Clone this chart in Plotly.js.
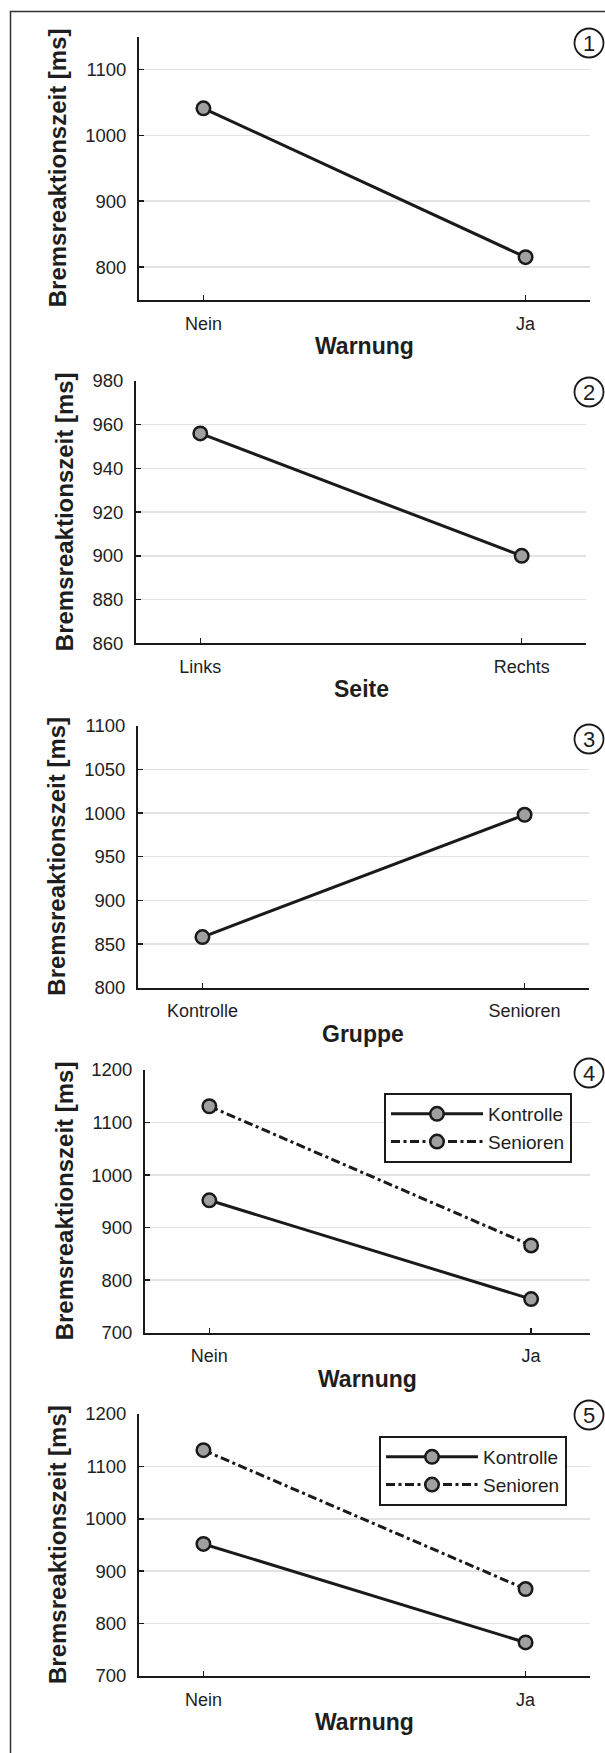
<!DOCTYPE html>
<html>
<head>
<meta charset="utf-8">
<script src="https://cdn.plot.ly/plotly-3.0.1.min.js"></script>
<style>
  html, body { margin: 0; padding: 0; background: #ffffff; }
  #chart { width: 605px; height: 1753px; }
</style>
</head>
<body>
<div id="chart"></div>
<script>
// Mean brake reaction times [ms] per factor
const warnung = ['Nein', 'Ja'];
const rtWarnung = [1041, 815];

const seite = ['Links', 'Rechts'];
const rtSeite = [956, 900];

const gruppe = ['Kontrolle', 'Senioren'];
const rtGruppe = [858, 998];

// Interaction Gruppe x Warnung
const rtKontrolle = [952, 764];
const rtSenioren = [1131, 866];

// Axis tick values
const ticks1 = [800, 900, 1000, 1100];
const ticks2 = [860, 880, 900, 920, 940, 960, 980];
const ticks3 = [800, 850, 900, 950, 1000, 1050, 1100];
const ticks4 = [700, 800, 900, 1000, 1100, 1200];

const yTitle = 'Bremsreaktionszeit [ms]';

const W = 605, H = 1753;
const px = p => p / W;
const py = p => 1 - p / H;

const FONT = 'Liberation Sans, Arial, Helvetica, sans-serif';
const INK = '#1a1a1a';
const TXT = '#1e1e1e';

// Panel geometry in page pixels: left, right, top, bottom of the plot area
const panels = [
  { l: 139, r: 590, t: 36.5, b: 300, xr: [-0.2, 1.2], yr: [750, 1150], ticks: ticks1, xt: 'Warnung', yx: 57, num: '1', cy: 43 },
  { l: 136, r: 586, t: 381, b: 643.3, xr: [-0.2, 1.2], yr: [860, 980], ticks: ticks2, xt: 'Seite', yx: 64, num: '2', cy: 392 },
  { l: 138, r: 589, t: 725.7, b: 987.7, xr: [-0.2, 1.2], yr: [800, 1100], ticks: ticks3, xt: 'Gruppe', yx: 57, num: '3', cy: 739 },
  { l: 145, r: 590, t: 1070, b: 1332.7, xr: [-0.2, 1.183], yr: [700, 1200], ticks: ticks4, xt: 'Warnung', yx: 64, num: '4', cy: 1073 },
  { l: 139, r: 590, t: 1414, b: 1676, xr: [-0.2, 1.2], yr: [700, 1200], ticks: ticks4, xt: 'Warnung', yx: 57, num: '5', cy: 1415 }
];

const markerStyle = { size: 13.5, color: '#a0a0a0', line: { color: INK, width: 2.5 } };
const dashDot = '9px,3.5px,3px,3.5px';

function series(x, y, idx, opts) {
  const s = idx === 1 ? '' : String(idx);
  return Object.assign({
    type: 'scatter',
    mode: 'lines+markers',
    x: x, y: y,
    xaxis: 'x' + s, yaxis: 'y' + s,
    line: { color: INK, width: 3 },
    marker: markerStyle,
    showlegend: false,
    hoverinfo: 'skip'
  }, opts || {});
}

const traces = [
  series(warnung, rtWarnung, 1),
  series(seite, rtSeite, 2),
  series(gruppe, rtGruppe, 3),
  series(warnung, rtKontrolle, 4, { name: 'Kontrolle', showlegend: true, legend: 'legend' }),
  series(warnung, rtSenioren, 4, { name: 'Senioren', showlegend: true, legend: 'legend',
    line: { color: INK, width: 3, dash: dashDot } }),
  series(warnung, rtKontrolle, 5, { name: 'Kontrolle', showlegend: true, legend: 'legend2' }),
  series(warnung, rtSenioren, 5, { name: 'Senioren', showlegend: true, legend: 'legend2',
    line: { color: INK, width: 3, dash: dashDot } })
];

const layout = {
  width: W, height: H,
  margin: { l: 0, r: 0, t: 0, b: 0 },
  paper_bgcolor: '#ffffff',
  plot_bgcolor: '#ffffff',
  font: { family: FONT, color: TXT, size: 18 },
  annotations: [],
  shapes: [
    // frame around the whole figure
    { type: 'rect', xref: 'paper', yref: 'paper',
      x0: px(10.5), x1: 1.2, y0: -0.2, y1: py(11.5),
      line: { color: '#333333', width: 1.5 }, fillcolor: 'rgba(0,0,0,0)' }
  ]
};

const legendCommon = {
  xanchor: 'left', yanchor: 'top',
  bgcolor: '#ffffff', bordercolor: INK, borderwidth: 2,
  font: { family: FONT, size: 19, color: TXT },
  itemwidth: 92, traceorder: 'normal',
  tracegroupgap: 0
};
layout.legend = Object.assign({ x: px(384), y: py(1093) }, legendCommon);
layout.legend2 = Object.assign({ x: px(379), y: py(1436) }, legendCommon);

panels.forEach((p, i) => {
  const s = i === 0 ? '' : String(i + 1);
  layout['xaxis' + s] = {
    domain: [px(p.l), px(p.r)],
    anchor: 'y' + s,
    type: 'category',
    range: p.xr,
    showgrid: false, zeroline: false,
    showline: true, linecolor: INK, linewidth: 2,
    ticks: 'inside', ticklen: 5, tickwidth: 1.5, tickcolor: INK,
    tickfont: { family: FONT, size: 18, color: TXT },
    ticklabelstandoff: 6,
    fixedrange: true
  };
  layout['yaxis' + s] = {
    domain: [py(p.b), py(p.t)],
    anchor: 'x' + s,
    range: p.yr,
    tickmode: 'array', tickvals: p.ticks, ticktext: p.ticks.map(String),
    showgrid: true, gridcolor: '#e2e2e2', gridwidth: 1.5,
    zeroline: false,
    showline: true, linecolor: INK, linewidth: 2,
    ticks: 'inside', ticklen: 5, tickwidth: 1.5, tickcolor: INK,
    tickfont: { family: FONT, size: 18.5, color: TXT },
    ticklabelstandoff: 7,
    fixedrange: true
  };
  // x axis title
  layout.annotations.push({
    xref: 'paper', yref: 'paper',
    x: px((p.l + p.r) / 2), y: py(p.b + 46),
    xanchor: 'center', yanchor: 'middle',
    text: '<b>' + p.xt + '</b>', showarrow: false,
    font: { family: FONT, size: 23, color: TXT }
  });
  // y axis title
  layout.annotations.push({
    xref: 'paper', yref: 'paper',
    x: px(p.yx), y: py((p.t + p.b) / 2),
    xanchor: 'center', yanchor: 'middle',
    text: '<b>' + yTitle + '</b>', showarrow: false, textangle: -90,
    font: { family: FONT, size: 24, color: TXT }
  });
  // circled panel number
  const cx = 589, rad = 14.5;
  layout.shapes.push({
    type: 'circle', xref: 'paper', yref: 'paper',
    x0: px(cx - rad), x1: px(cx + rad), y0: py(p.cy + rad), y1: py(p.cy - rad),
    line: { color: INK, width: 1.8 }, fillcolor: '#ffffff'
  });
  layout.annotations.push({
    xref: 'paper', yref: 'paper',
    x: px(cx), y: py(p.cy),
    xanchor: 'center', yanchor: 'middle',
    text: p.num, showarrow: false,
    font: { family: FONT, size: 22, color: TXT }
  });
});

Plotly.newPlot('chart', traces, layout, { staticPlot: true, displayModeBar: false });
</script>
</body>
</html>
